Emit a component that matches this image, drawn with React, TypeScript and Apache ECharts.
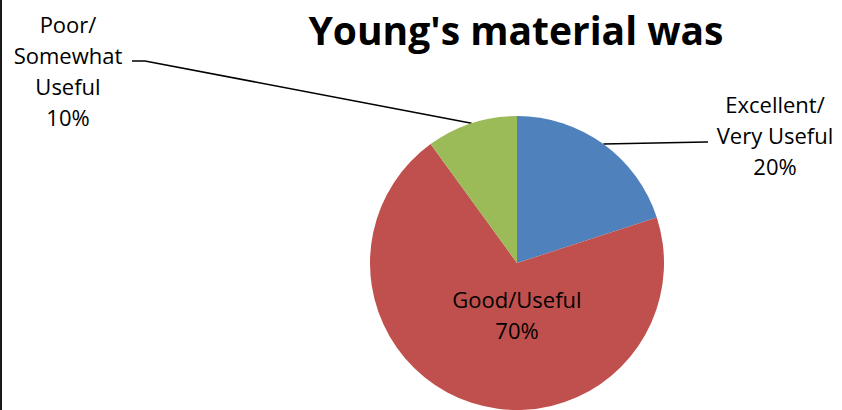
import React, { useEffect, useRef } from "react";
import * as echarts from "echarts";

const categories = ["Excellent/\nVery Useful", "Good/Useful", "Poor/\nSomewhat\nUseful"];
const values = [20, 70, 10];
const colors = ["#4F81BD", "#C0504D", "#9BBB59"];
const titleText = "Young's material was";

export default function App() {
  const ref = useRef<HTMLDivElement>(null);
  useEffect(() => {
    if (!ref.current) return;
    const chart = echarts.init(ref.current, null, { renderer: "svg" });
    const labelPos = [
      { x: 775, y: 135 },
      { x: 517, y: 314 },
      { x: 68, y: 70 },
    ];
    chart.setOption({
      animation: false,
      backgroundColor: "#ffffff",
      graphic: [
        { type: "rect", shape: { x: 0, y: 0, width: 2, height: 410 }, style: { fill: "#1a1a1a" } },
        {
          type: "text",
          x: 516,
          y: 29,
          style: {
            text: titleText,
            fontFamily: "Open Sans",
            fontWeight: "bold",
            fontSize: 39,
            fill: "#000",
            align: "center",
            verticalAlign: "middle",
          },
        },
      ],
      series: [
        {
          type: "pie",
          center: [517, 263],
          radius: [0, 147],
          startAngle: 90,
          clockwise: true,
          silent: true,
          data: categories.map((c, i) => ({
            name: c,
            value: values[i],
            itemStyle: { color: colors[i] },
            labelLine: { show: i !== 1 },
          })),
          label: {
            show: true,
            position: "outside",
            formatter: "{b}\n{d}%",
            fontFamily: "Open Sans",
            fontSize: 22,
            lineHeight: 31,
            color: "#000",
            align: "center",
          },
          labelLine: {
            show: true,
            lineStyle: { color: "#000", width: 1.6 },
          },
          labelLayout: (params: any) => {
            const i = params.dataIndex;
            const p = labelPos[i];
            const start = params.labelLinePoints ? params.labelLinePoints[0] : [0, 0];
            let pts: any = undefined;
            if (i === 0) pts = [start, [706, 142], [708, 142]];
            if (i === 2) pts = [start, [145, 61], [132, 61]];
            return {
              x: p.x,
              y: p.y,
              align: "center",
              verticalAlign: "middle",
              labelLinePoints: pts,
            };
          },
        },
      ],
    });
    return () => chart.dispose();
  }, []);
  return <div ref={ref} style={{ position: "fixed", left: 0, top: 0, width: 842, height: 410 }} />;
}
